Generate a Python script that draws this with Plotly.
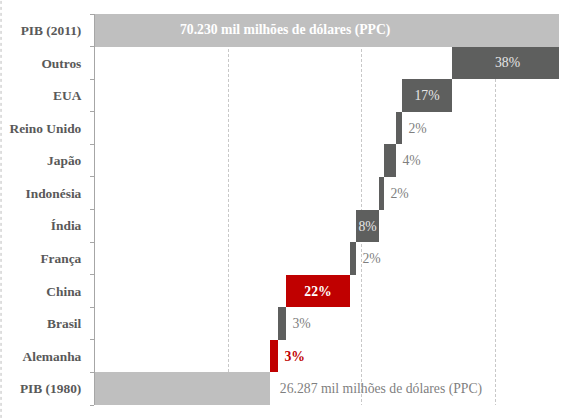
import numpy as np
import plotly.graph_objects as go

# ---- data (mil milhões de dólares, PPC) ----
categories = ["PIB (1980)", "Alemanha", "Brasil", "China", "França", "Índia",
              "Indonésia", "Japão", "Reino Unido", "EUA", "Outros", "PIB (2011)"]
gdp_1980 = 26287
gdp_2011 = 70230
countries = ["Alemanha", "Brasil", "China", "França", "Índia",
             "Indonésia", "Japão", "Reino Unido", "EUA", "Outros"]
increments = [1200, 1200, 9500, 900, 3450, 800, 1750, 1000, 7450, 16693]
pct_labels = ["3%", "3%", "22%", "2%", "8%", "2%", "4%", "2%", "17%", "38%"]
highlight = ["Alemanha", "China"]
label_1980 = "26.287 mil milhões de dólares (PPC)"
label_2011 = "70.230 mil milhões de dólares (PPC)"

# ---- styling ----
LIGHT = "#BFBFBF"
DARK = "#5E5F5E"
RED = "#C00000"
FONT = "Liberation Serif"
FS = 13.7
NB = "\u00a0"

# waterfall bases
bases_inc = gdp_1980 + np.concatenate([[0], np.cumsum(increments)[:-1]])

x_vals = [gdp_1980] + increments + [gdp_2011]
bases = [0] + list(bases_inc) + [0]
colors = [LIGHT] + [RED if c in highlight else DARK for c in countries] + [LIGHT]

inside_set = {"China", "Índia", "EUA"}
texts, positions, in_colors, out_colors = [], [], [], []
texts.append(NB + NB + label_1980)
positions.append("outside")
in_colors.append("#FFFFFF")
out_colors.append("#7F7F7F")
for c, p in zip(countries, pct_labels):
    if c == "Outros":
        texts.append("")
        positions.append("none")
        in_colors.append("#FFFFFF")
        out_colors.append("#FFFFFF")
    elif c in inside_set:
        positions.append("inside")
        if c in highlight:
            texts.append("<b>" + p + "</b>")
            in_colors.append("#FFFFFF")
        else:
            texts.append(p)
            in_colors.append("#E6E6E6")
        out_colors.append("#7F7F7F")
    else:
        positions.append("outside")
        if c in highlight:
            texts.append(NB + "<b>" + p + "</b>")
            out_colors.append(RED)
        else:
            texts.append(NB + p)
            out_colors.append("#7F7F7F")
        in_colors.append("#FFFFFF")
texts.append("")
positions.append("none")
in_colors.append("#FFFFFF")
out_colors.append("#FFFFFF")

fig = go.Figure(go.Bar(
    y=categories,
    x=x_vals,
    base=bases,
    orientation="h",
    marker=dict(color=colors, line=dict(width=0)),
    text=texts,
    textposition=positions,
    textangle=0,
    insidetextanchor="middle",
    constraintext="none",
    insidetextfont=dict(family=FONT, size=FS, color=in_colors),
    outsidetextfont=dict(family=FONT, size=FS, color=out_colors),
    cliponaxis=False,
    hoverinfo="skip",
))

# label of "Outros" (centred on its bar)
i_out = countries.index("Outros")
fig.add_annotation(
    x=bases_inc[i_out] + increments[i_out] / 2, y="Outros", xref="x", yref="y",
    text=pct_labels[i_out], showarrow=False,
    font=dict(family=FONT, size=FS, color="#E6E6E6"),
    xanchor="center", yanchor="middle",
)

fig.add_annotation(
    x=28500, y="PIB (2011)", xref="x", yref="y",
    text="<b>" + label_2011 + "</b>", showarrow=False,
    font=dict(family=FONT, size=FS, color="#FFFFFF"),
    xanchor="center", yanchor="middle",
)

# dashed frame line on the left edge
fig.add_shape(type="line", xref="paper", yref="paper",
              x0=-0.2025, x1=-0.2025, y0=-0.033, y1=1.036,
              line=dict(color="#BDBDBD", width=1, dash="dot"))

fig.update_layout(
    width=561, height=418,
    margin=dict(l=95, r=2, t=14, b=13, autoexpand=False),
    paper_bgcolor="white", plot_bgcolor="white",
    bargap=0,
    showlegend=False,
    font=dict(family=FONT),
)
fig.update_xaxes(
    range=[0, 69565], dtick=20000, tick0=0,
    showgrid=True, gridcolor="#C8C8C8", griddash="3px,2px", gridwidth=1,
    zeroline=False, showticklabels=False, ticks="", showline=False,
    automargin=False,
)
fig.update_yaxes(
    categoryorder="array", categoryarray=categories,
    showline=True, linecolor="#A6A6A6", linewidth=1,
    ticks="outside", ticklen=4, tickcolor="#A6A6A6", tickson="boundaries",
    tickfont=dict(family=FONT, size=13.4, color="#595959", weight="bold"),
    ticklabelstandoff=10, automargin=False,
    showgrid=False, zeroline=False,
)

fig.write_html(
    "out.html",
    config={"displayModeBar": False},
    post_script="document.body.style.margin='0';document.body.style.overflow='hidden';",
)
